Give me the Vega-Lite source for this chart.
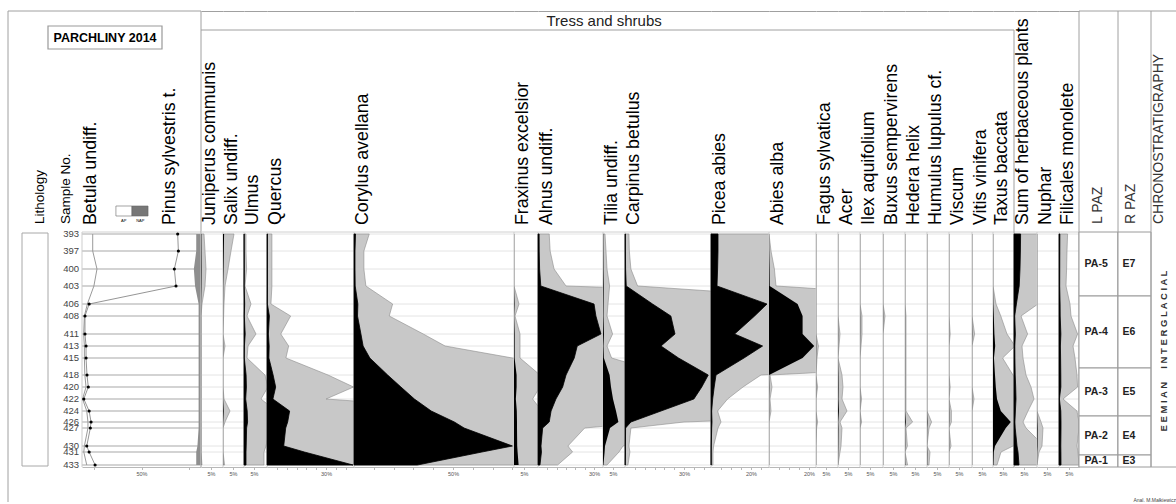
{
"$schema":"https://vega.github.io/schema/vega-lite/v6.json",
"padding":{"left":7,"top":10,"right":0,"bottom":0},
"background":"#ffffff",
"spacing":0,
"bounds":"flush",
"datasets":{
"p":[
{"s":393,"d":0,"B":9,"P":80.4,"AP":96,"Ju":0.15,"Sa":0.55,"Ul":0.1,"Qu":0.25,"Co":0.77,"Fr":0,"Al":0.6,"Ti":0.1,"Ca":0.2,"Pi":3.5,"Ab":0,"Fa":0,"Ac":0,"Il":0,"Bu":0,"He":0,"Hu":0,"Vi":0,"Vt":0,"Tx":0,"Sh":3.3,"Nu":0,"Fi":0.43},
{"s":397,"d":17,"B":9,"P":81,"AP":96,"Ju":0.2,"Sa":0.4,"Ul":0.1,"Qu":0.25,"Co":0.5,"Fr":0,"Al":0.65,"Ti":0.15,"Ca":0.22,"Pi":3.5,"Ab":0.1,"Fa":0,"Ac":0,"Il":0,"Bu":0,"He":0,"Hu":0,"Vi":0,"Vt":0,"Tx":0,"Sh":3.2,"Nu":0,"Fi":0.4},
{"s":400,"d":35,"B":12.6,"P":77.6,"AP":94,"Ju":0.25,"Sa":0.25,"Ul":0.13,"Qu":0.25,"Co":0.5,"Fr":0,"Al":0.86,"Ti":0.2,"Ca":0.3,"Pi":3.3,"Ab":0.27,"Fa":0,"Ac":0,"Il":0,"Bu":0,"He":0,"Hu":0,"Vi":0,"Vt":0,"Tx":0,"Sh":3.0,"Nu":0,"Fi":0.38},
{"s":403,"d":52,"B":10,"P":79,"AP":95,"Ju":0.2,"Sa":0.1,"Ul":0.05,"Qu":0.25,"Co":0.6,"Fr":0,"Al":1.5,"Ti":0.33,"Ca":0.64,"Pi":3,"Ab":0.35,"Fa":0,"Ac":0,"Il":0,"Bu":0,"He":0,"Hu":0,"Vi":0,"Vt":0,"Tx":0,"Sh":2.6,"Nu":0,"Fi":0.35},
{"s":406,"d":70,"B":4.5,"P":6,"AP":98,"Ju":0.05,"Sa":0.05,"Ul":0.35,"Qu":0.2,"Co":1.95,"Fr":0.25,"Al":30,"Ti":0.25,"Ca":14,"Pi":28,"Ab":14.3,"Fa":0,"Ac":0,"Il":0,"Bu":0,"He":0,"Hu":0,"Vi":0,"Vt":0,"Tx":0.15,"Sh":1.2,"Nu":0,"Fi":0.55},
{"s":408,"d":82,"B":2,"P":2.5,"AP":98,"Ju":0,"Sa":0.03,"Ul":0.15,"Qu":1.2,"Co":1.78,"Fr":0.05,"Al":31,"Ti":0.2,"Ca":23.3,"Pi":21.8,"Ab":16.8,"Fa":0,"Ac":0,"Il":0.1,"Bu":0.1,"He":0.05,"Hu":0,"Vi":0,"Vt":0,"Tx":0.39,"Sh":0.35,"Nu":0,"Fi":0.6},
{"s":411,"d":100,"B":1.4,"P":2.5,"AP":98,"Ju":0,"Sa":0,"Ul":0.6,"Qu":0.7,"Co":3.5,"Fr":0.3,"Al":33.7,"Ti":0.48,"Ca":25.4,"Pi":11.8,"Ab":16.8,"Fa":0,"Ac":0.1,"Il":0.1,"Bu":0,"He":0.05,"Hu":0,"Vi":0.06,"Vt":0.13,"Tx":0.7,"Sh":0.68,"Nu":0,"Fi":0.93},
{"s":413,"d":112,"B":2,"P":3.4,"AP":98,"Ju":0,"Sa":0.1,"Ul":0.2,"Qu":1.1,"Co":4.6,"Fr":0.3,"Al":21,"Ti":0.2,"Ca":18.3,"Pi":25.8,"Ab":22.6,"Fa":0.12,"Ac":0.05,"Il":0.05,"Bu":0,"He":0.05,"Hu":0,"Vi":0,"Vt":0,"Tx":1.1,"Sh":0.4,"Nu":0,"Fi":0.7},
{"s":415,"d":124,"B":2,"P":3.4,"AP":98,"Ju":0,"Sa":0,"Ul":0.15,"Qu":0.96,"Co":8,"Fr":0.3,"Al":19.4,"Ti":0.43,"Ca":27.2,"Pi":16.5,"Ab":16.8,"Fa":0.05,"Ac":0,"Il":0,"Bu":0,"He":0.05,"Hu":0,"Vi":0,"Vt":0,"Tx":0.48,"Sh":0.45,"Nu":0,"Fi":0.8},
{"s":418,"d":141,"B":2.4,"P":4.2,"AP":98,"Ju":0,"Sa":0,"Ul":1.05,"Qu":3.1,"Co":17,"Fr":1.3,"Al":15,"Ti":3.3,"Ca":42.3,"Pi":2.5,"Ab":0.05,"Fa":0,"Ac":0.2,"Il":0,"Bu":0,"He":0.05,"Hu":0,"Vi":0,"Vt":0,"Tx":1.0,"Sh":0.6,"Nu":0,"Fi":0.9},
{"s":420,"d":153,"B":3.4,"P":5.3,"AP":98,"Ju":0,"Sa":0,"Ul":1.2,"Qu":4.4,"Co":23.7,"Fr":1.3,"Al":13.2,"Ti":4,"Ca":39,"Pi":1.6,"Ab":0.15,"Fa":0.08,"Ac":0.25,"Il":0,"Bu":0,"He":0.05,"Hu":0,"Vi":0.06,"Vt":0,"Tx":1.4,"Sh":0.85,"Nu":0,"Fi":0.93},
{"s":422,"d":165,"B":0.5,"P":1.5,"AP":98,"Ju":0,"Sa":0.05,"Ul":0.85,"Qu":3.0,"Co":30.5,"Fr":0.93,"Al":9.6,"Ti":5,"Ca":35,"Pi":0.83,"Ab":0.05,"Fa":0,"Ac":0.2,"Il":0.08,"Bu":0,"He":0.05,"Hu":0,"Vi":0,"Vt":0.1,"Tx":2.0,"Sh":1.0,"Nu":0,"Fi":0.2},
{"s":424,"d":177,"B":4,"P":6,"AP":98,"Ju":0,"Sa":0.35,"Ul":1.6,"Qu":11.5,"Co":39,"Fr":1.4,"Al":7,"Ti":6.5,"Ca":18.3,"Pi":0.33,"Ab":0.1,"Fa":0,"Ac":0.45,"Il":0,"Bu":0,"He":0.05,"Hu":0,"Vi":0.12,"Vt":0,"Tx":3.9,"Sh":0.7,"Nu":0,"Fi":0.9},
{"s":426,"d":188,"B":5,"P":7.6,"AP":98,"Ju":0,"Sa":0.1,"Ul":1.8,"Qu":10.5,"Co":50.7,"Fr":1.5,"Al":6,"Ti":7.7,"Ca":3,"Pi":0.5,"Ab":0,"Fa":0.08,"Ac":0.1,"Il":0.08,"Bu":0,"He":0.38,"Hu":0.23,"Vi":0.12,"Vt":0,"Tx":8.9,"Sh":0.45,"Nu":0.2,"Fi":1.0},
{"s":427,"d":194,"B":5,"P":7,"AP":98,"Ju":0,"Sa":0,"Ul":1.3,"Qu":9.5,"Co":55.6,"Fr":1.5,"Al":2.5,"Ti":3.5,"Ca":0.3,"Pi":0.35,"Ab":0,"Fa":0.03,"Ac":0.2,"Il":0,"Bu":0,"He":0.05,"Hu":0.1,"Vi":0,"Vt":0,"Tx":6.4,"Sh":0.6,"Nu":0.3,"Fi":1.0},
{"s":430,"d":212,"B":2,"P":4,"AP":97,"Ju":0,"Sa":0,"Ul":1.1,"Qu":8.5,"Co":80,"Fr":1.6,"Al":1.6,"Ti":1,"Ca":0.2,"Pi":0.13,"Ab":0,"Fa":0,"Ac":0.15,"Il":0,"Bu":0,"He":0.12,"Hu":0,"Vi":0.1,"Vt":0,"Tx":1.0,"Sh":1.5,"Nu":0.25,"Fi":0.9},
{"s":431,"d":218,"B":1.5,"P":6,"AP":96,"Ju":0,"Sa":0,"Ul":1.0,"Qu":19,"Co":64.6,"Fr":1.8,"Al":1.85,"Ti":0.8,"Ca":0.25,"Pi":0.1,"Ab":0,"Fa":0,"Ac":0.1,"Il":0,"Bu":0,"He":0,"Hu":0.15,"Vi":0,"Vt":0,"Tx":0.4,"Sh":2,"Nu":0.1,"Fi":0.95},
{"s":433,"d":231,"B":4,"P":11,"AP":96,"Ju":0.05,"Sa":0.08,"Ul":1.0,"Qu":43.7,"Co":32,"Fr":2.3,"Al":1.05,"Ti":0.2,"Ca":0.15,"Pi":0.1,"Ab":0,"Fa":0,"Ac":0,"Il":0,"Bu":0,"He":0.13,"Hu":0.1,"Vi":0,"Vt":0,"Tx":0.2,"Sh":2.5,"Nu":0,"Fi":1.0}
],
"z":[
{"z":"PA-5","r":"E7","dep":-2},{"z":"PA-5","r":"E7","dep":62},
{"z":"PA-4","r":"E6","dep":62},{"z":"PA-4","r":"E6","dep":134},
{"z":"PA-3","r":"E5","dep":134},{"z":"PA-3","r":"E5","dep":182},
{"z":"PA-2","r":"E4","dep":182},{"z":"PA-2","r":"E4","dep":221},
{"z":"PA-1","r":"E3","dep":221},{"z":"PA-1","r":"E3","dep":233}
]
},
"data":{"name":"p"},
"hconcat":[
{"width":74,"height":456,
"layer":[
{"mark":{"type":"text","align":"right","baseline":"middle","fontSize":9.5,"color":"#444444"},"encoding":{"y":{"field":"d","type":"quantitative","scale":{"domain":[-223,233],"reverse":true,"nice":false,"zero":false}},"x":{"datum":71,"scale":{"domain":[0,74],"nice":false},"axis":null},"text":{"field":"s","type":"nominal"}}},
{"data":{"values":[{}]},"mark":{"type":"rule","color":"#a0a0a0"},"encoding":{"x":{"datum":0,"axis":null},"y":{"datum":-223},"y2":{"datum":268}}},
{"data":{"values":[{}]},"mark":{"type":"rule","color":"#a0a0a0"},"encoding":{"y":{"datum":-223}}},
{"data":{"values":[{}]},"mark":{"type":"rect","fill":"#ffffff","stroke":"#a8a8a8"},"encoding":{"x":{"datum":14,"axis":null},"x2":{"datum":40},"y":{"datum":-1},"y2":{"datum":232}}},
{"data":{"values":[{}]},"mark":{"type":"text","style":"lab","fontSize":13.5},"encoding":{"x":{"datum":24.5,"axis":null},"y":{"datum":-10},"text":{"value":"Lithology"}}},
{"data":{"values":[{}]},"mark":{"type":"text","style":"lab","fontSize":13.5},"encoding":{"x":{"datum":50.5,"axis":null},"y":{"datum":-10},"text":{"value":"Sample No."}}},
{"data":{"values":[{}]},"mark":{"type":"rect","fill":"#ffffff","stroke":"#999999","strokeWidth":1.2},"encoding":{"x":{"datum":40,"axis":null},"x2":{"datum":154},"y":{"datum":-208},"y2":{"datum":-185}}},
{"data":{"values":[{}]},"mark":{"type":"text","fontSize":12.5,"fontWeight":"bold","align":"center","baseline":"middle"},"encoding":{"x":{"datum":97,"axis":null},"y":{"datum":-196.5},"text":{"value":"PARCHLINY 2014"}}}
]},
{"width":119,"height":456,
"layer":[
{"mark":{"type":"rule","color":"#a8a8a8","strokeWidth":1.2},"encoding":{"y":{"field":"d","type":"quantitative","scale":{"domain":[-223,233],"reverse":true,"nice":false,"zero":false}}}},
{"data":{"values":[{}]},"mark":{"type":"rule","color":"#a0a0a0"},"encoding":{"y":{"datum":-223}}},
{"data":{"values":[{}]},"mark":{"type":"rule","color":"#d0d0d0"},"encoding":{"y":{"datum":-2}}},
{"data":{"values":[{}]},"mark":{"type":"rule","color":"#cdcdcd"},"encoding":{"x":{"datum":0},"y":{"datum":-2},"y2":{"datum":233}}},
{"data":{"values":[{}]},"mark":{"type":"rule","color":"#a0a0a0"},"encoding":{"x":{"datum":100},"y":{"datum":-223},"y2":{"datum":233}}},
{"mark":{"type":"area","orient":"horizontal","fill":"#8e8e8e"},"encoding":{"y":{"field":"d","type":"quantitative"},"x":{"field":"AP","type":"quantitative","title":null,"scale":{"domain":[0,100],"nice":false},"axis":{"values":[10,20,30,40,50,60,70,80,90],"labelExpr":"datum.value==50?'50%':''","title":null}},"x2":{"datum":100}}},
{"mark":{"type":"line","color":"#9a9a9a","strokeWidth":1},"encoding":{"y":{"field":"d","type":"quantitative"},"x":{"field":"B","type":"quantitative","title":null},"order":{"field":"d","type":"quantitative"}}},
{"mark":{"type":"line","color":"#7a7a7a","strokeWidth":0.8},"encoding":{"y":{"field":"d","type":"quantitative"},"x":{"field":"P","type":"quantitative","title":null},"order":{"field":"d","type":"quantitative"}}},
{"mark":{"type":"point","filled":true,"size":10,"color":"#000000","opacity":1},"encoding":{"y":{"field":"d","type":"quantitative"},"x":{"field":"P","type":"quantitative","title":null}}},
{"data":{"values":[{}]},"mark":{"type":"text","style":"lab"},"encoding":{"x":{"datum":0},"y":{"datum":-9},"text":{"value":"Betula undiff."}}},
{"data":{"values":[{}]},"mark":{"type":"text","style":"lab"},"encoding":{"x":{"datum":66.4},"y":{"datum":-9},"text":{"value":"Pinus sylvestris t."}}},
{"data":{"values":[{}]},"mark":{"type":"rect","fill":"#ffffff","stroke":"#666666","strokeWidth":0.6},"encoding":{"x":{"datum":28.5},"x2":{"datum":42},"y":{"datum":-28},"y2":{"datum":-18}}},
{"data":{"values":[{}]},"mark":{"type":"rect","fill":"#777777","stroke":"#666666","strokeWidth":0.6},"encoding":{"x":{"datum":42},"x2":{"datum":55.5},"y":{"datum":-28},"y2":{"datum":-18}}},
{"data":{"values":[{}]},"mark":{"type":"text","fontSize":4,"baseline":"middle","align":"center"},"encoding":{"x":{"datum":35},"y":{"datum":-13},"text":{"value":"AP"}}},
{"data":{"values":[{}]},"mark":{"type":"text","fontSize":4,"baseline":"middle","align":"center"},"encoding":{"x":{"datum":49},"y":{"datum":-13},"text":{"value":"NAP"}}}
]},
{"width":22,"height":456,"resolve":{"scale":{"x":"independent"}},
"layer":[
{"mark":{"type":"rule","color":"#e4e4e4"},"encoding":{"y":{"field":"d","type":"quantitative","scale":{"domain":[-223,233],"reverse":true,"nice":false,"zero":false}}}},
{"data":{"values":[{}]},"mark":{"type":"rule","color":"#d0d0d0"},"encoding":{"y":{"datum":-2}}},
{"data":{"values":[{}]},"mark":{"type":"rule","color":"#a0a0a0"},"encoding":{"y":{"datum":-204}}},
{"data":{"values":[{}]},"mark":{"type":"rule","color":"#cdcdcd"},"encoding":{"x":{"datum":0,"scale":{"domain":[0,1]},"axis":null},"y":{"datum":-2},"y2":{"datum":233}}},
{"mark":{"type":"area","orient":"horizontal","clip":true,"fill":"#c8c8c8","stroke":"#8c8c8c","strokeWidth":0.6},"encoding":{"y":{"field":"d","type":"quantitative"},"x":{"field":"Ju","type":"quantitative","scale":{"domain":[0,1.1],"nice":false},"axis":{"orient":"top","title":null}}}},
{"mark":{"type":"area","orient":"horizontal","fill":"#000000"},"encoding":{"y":{"field":"d","type":"quantitative"},"x":{"field":"Ju","type":"quantitative","scale":{"domain":[0,11],"nice":false},"axis":{"values":[5],"labelExpr":"datum.value+'%'","title":null}}}},
{"data":{"values":[{}]},"mark":{"type":"text","style":"lab"},"encoding":{"x":{"datum":0,"scale":{"domain":[0,1]},"axis":null},"y":{"datum":-9},"text":{"value":"Juniperus communis"}}}
]},
{"width":21,"height":456,"resolve":{"scale":{"x":"independent"}},
"layer":[
{"mark":{"type":"rule","color":"#e4e4e4"},"encoding":{"y":{"field":"d","type":"quantitative","scale":{"domain":[-223,233],"reverse":true,"nice":false,"zero":false}}}},
{"data":{"values":[{}]},"mark":{"type":"rule","color":"#d0d0d0"},"encoding":{"y":{"datum":-2}}},
{"data":{"values":[{}]},"mark":{"type":"rule","color":"#a0a0a0"},"encoding":{"y":{"datum":-204}}},
{"data":{"values":[{}]},"mark":{"type":"rule","color":"#cdcdcd"},"encoding":{"x":{"datum":0,"scale":{"domain":[0,1]},"axis":null},"y":{"datum":-2},"y2":{"datum":233}}},
{"mark":{"type":"area","orient":"horizontal","clip":true,"fill":"#c8c8c8","stroke":"#8c8c8c","strokeWidth":0.6},"encoding":{"y":{"field":"d","type":"quantitative"},"x":{"field":"Sa","type":"quantitative","scale":{"domain":[0,1.05],"nice":false},"axis":{"orient":"top","title":null}}}},
{"mark":{"type":"area","orient":"horizontal","fill":"#000000"},"encoding":{"y":{"field":"d","type":"quantitative"},"x":{"field":"Sa","type":"quantitative","scale":{"domain":[0,10.5],"nice":false},"axis":{"values":[5],"labelExpr":"datum.value+'%'","title":null}}}},
{"data":{"values":[{}]},"mark":{"type":"text","style":"lab"},"encoding":{"x":{"datum":0,"scale":{"domain":[0,1]},"axis":null},"y":{"datum":-9},"text":{"value":"Salix undiff."}}}
]},
{"width":23,"height":456,"resolve":{"scale":{"x":"independent"}},
"layer":[
{"mark":{"type":"rule","color":"#e4e4e4"},"encoding":{"y":{"field":"d","type":"quantitative","scale":{"domain":[-223,233],"reverse":true,"nice":false,"zero":false}}}},
{"data":{"values":[{}]},"mark":{"type":"rule","color":"#d0d0d0"},"encoding":{"y":{"datum":-2}}},
{"data":{"values":[{}]},"mark":{"type":"rule","color":"#a0a0a0"},"encoding":{"y":{"datum":-204}}},
{"data":{"values":[{}]},"mark":{"type":"rule","color":"#cdcdcd"},"encoding":{"x":{"datum":0,"scale":{"domain":[0,1]},"axis":null},"y":{"datum":-2},"y2":{"datum":233}}},
{"mark":{"type":"area","orient":"horizontal","clip":true,"fill":"#c8c8c8","stroke":"#8c8c8c","strokeWidth":0.6},"encoding":{"y":{"field":"d","type":"quantitative"},"x":{"field":"Ul","type":"quantitative","scale":{"domain":[0,1.15],"nice":false},"axis":{"orient":"top","title":null}}}},
{"mark":{"type":"area","orient":"horizontal","fill":"#000000","stroke":"#000000","strokeWidth":0.8},"encoding":{"y":{"field":"d","type":"quantitative"},"x":{"field":"Ul","type":"quantitative","scale":{"domain":[0,11.5],"nice":false},"axis":{"values":[5],"labelExpr":"datum.value+'%'","title":null}}}},
{"data":{"values":[{}]},"mark":{"type":"text","style":"lab"},"encoding":{"x":{"datum":0,"scale":{"domain":[0,1]},"axis":null},"y":{"datum":-9},"text":{"value":"Ulmus"}}}
]},
{"width":87,"height":456,"resolve":{"scale":{"x":"independent"}},
"layer":[
{"mark":{"type":"rule","color":"#e4e4e4"},"encoding":{"y":{"field":"d","type":"quantitative","scale":{"domain":[-223,233],"reverse":true,"nice":false,"zero":false}}}},
{"data":{"values":[{}]},"mark":{"type":"rule","color":"#d0d0d0"},"encoding":{"y":{"datum":-2}}},
{"data":{"values":[{}]},"mark":{"type":"rule","color":"#a0a0a0"},"encoding":{"y":{"datum":-204}}},
{"data":{"values":[{}]},"mark":{"type":"rule","color":"#cdcdcd"},"encoding":{"x":{"datum":0,"scale":{"domain":[0,1]},"axis":null},"y":{"datum":-2},"y2":{"datum":233}}},
{"mark":{"type":"area","orient":"horizontal","clip":true,"fill":"#c8c8c8","stroke":"#8c8c8c","strokeWidth":0.6},"encoding":{"y":{"field":"d","type":"quantitative"},"x":{"field":"Qu","type":"quantitative","scale":{"domain":[0,4.42],"nice":false},"axis":{"orient":"top","title":null}}}},
{"mark":{"type":"area","orient":"horizontal","fill":"#000000","stroke":"#000000","strokeWidth":0.8},"encoding":{"y":{"field":"d","type":"quantitative"},"x":{"field":"Qu","type":"quantitative","scale":{"domain":[0,44.2],"nice":false},"axis":{"values":[5,10,15,20,25,30,35,40],"labelExpr":"datum.value==30?'30%':''","title":null}}}},
{"data":{"values":[{}]},"mark":{"type":"text","style":"lab"},"encoding":{"x":{"datum":0,"scale":{"domain":[0,1]},"axis":null},"y":{"datum":-9},"text":{"value":"Quercus"}}}
]},
{"width":160,"height":456,"resolve":{"scale":{"x":"independent"}},
"layer":[
{"mark":{"type":"rule","color":"#e4e4e4"},"encoding":{"y":{"field":"d","type":"quantitative","scale":{"domain":[-223,233],"reverse":true,"nice":false,"zero":false}}}},
{"data":{"values":[{}]},"mark":{"type":"rule","color":"#d0d0d0"},"encoding":{"y":{"datum":-2}}},
{"data":{"values":[{}]},"mark":{"type":"rule","color":"#a0a0a0"},"encoding":{"y":{"datum":-204}}},
{"data":{"values":[{}]},"mark":{"type":"rule","color":"#cdcdcd"},"encoding":{"x":{"datum":0,"scale":{"domain":[0,1]},"axis":null},"y":{"datum":-2},"y2":{"datum":233}}},
{"mark":{"type":"area","orient":"horizontal","clip":true,"fill":"#c8c8c8","stroke":"#8c8c8c","strokeWidth":0.6},"encoding":{"y":{"field":"d","type":"quantitative"},"x":{"field":"Co","type":"quantitative","scale":{"domain":[0,8.08],"nice":false},"axis":{"orient":"top","title":null}}}},
{"mark":{"type":"area","orient":"horizontal","fill":"#000000","stroke":"#000000","strokeWidth":0.8},"encoding":{"y":{"field":"d","type":"quantitative"},"x":{"field":"Co","type":"quantitative","scale":{"domain":[0,80.8],"nice":false},"axis":{"values":[10,20,30,40,50,60,70,80],"labelExpr":"datum.value==50?'50%':''","title":null}}}},
{"data":{"values":[{}]},"mark":{"type":"text","style":"lab"},"encoding":{"x":{"datum":0,"scale":{"domain":[0,1]},"axis":null},"y":{"datum":-9},"text":{"value":"Corylus avellana"}}}
]},
{"width":24,"height":456,"resolve":{"scale":{"x":"independent"}},
"layer":[
{"mark":{"type":"rule","color":"#e4e4e4"},"encoding":{"y":{"field":"d","type":"quantitative","scale":{"domain":[-223,233],"reverse":true,"nice":false,"zero":false}}}},
{"data":{"values":[{}]},"mark":{"type":"rule","color":"#d0d0d0"},"encoding":{"y":{"datum":-2}}},
{"data":{"values":[{}]},"mark":{"type":"rule","color":"#a0a0a0"},"encoding":{"y":{"datum":-204}}},
{"data":{"values":[{}]},"mark":{"type":"rule","color":"#cdcdcd"},"encoding":{"x":{"datum":0,"scale":{"domain":[0,1]},"axis":null},"y":{"datum":-2},"y2":{"datum":233}}},
{"mark":{"type":"area","orient":"horizontal","clip":true,"fill":"#c8c8c8","stroke":"#8c8c8c","strokeWidth":0.6},"encoding":{"y":{"field":"d","type":"quantitative"},"x":{"field":"Fr","type":"quantitative","scale":{"domain":[0,1.2],"nice":false},"axis":{"orient":"top","title":null}}}},
{"mark":{"type":"area","orient":"horizontal","fill":"#000000"},"encoding":{"y":{"field":"d","type":"quantitative"},"x":{"field":"Fr","type":"quantitative","scale":{"domain":[0,12],"nice":false},"axis":{"values":[5],"labelExpr":"datum.value+'%'","title":null}}}},
{"data":{"values":[{}]},"mark":{"type":"text","style":"lab"},"encoding":{"x":{"datum":0,"scale":{"domain":[0,1]},"axis":null},"y":{"datum":-9},"text":{"value":"Fraxinus excelsior"}}}
]},
{"width":65,"height":456,"resolve":{"scale":{"x":"independent"}},
"layer":[
{"mark":{"type":"rule","color":"#e4e4e4"},"encoding":{"y":{"field":"d","type":"quantitative","scale":{"domain":[-223,233],"reverse":true,"nice":false,"zero":false}}}},
{"data":{"values":[{}]},"mark":{"type":"rule","color":"#d0d0d0"},"encoding":{"y":{"datum":-2}}},
{"data":{"values":[{}]},"mark":{"type":"rule","color":"#a0a0a0"},"encoding":{"y":{"datum":-204}}},
{"data":{"values":[{}]},"mark":{"type":"rule","color":"#cdcdcd"},"encoding":{"x":{"datum":0,"scale":{"domain":[0,1]},"axis":null},"y":{"datum":-2},"y2":{"datum":233}}},
{"mark":{"type":"area","orient":"horizontal","clip":true,"fill":"#c8c8c8","stroke":"#8c8c8c","strokeWidth":0.6},"encoding":{"y":{"field":"d","type":"quantitative"},"x":{"field":"Al","type":"quantitative","scale":{"domain":[0,3.48],"nice":false},"axis":{"orient":"top","title":null}}}},
{"mark":{"type":"area","orient":"horizontal","fill":"#000000","stroke":"#000000","strokeWidth":0.8},"encoding":{"y":{"field":"d","type":"quantitative"},"x":{"field":"Al","type":"quantitative","scale":{"domain":[0,34.8],"nice":false},"axis":{"values":[5,10,15,20,25,30],"labelExpr":"datum.value==30?'30%':''","title":null}}}},
{"data":{"values":[{}]},"mark":{"type":"text","style":"lab"},"encoding":{"x":{"datum":0,"scale":{"domain":[0,1]},"axis":null},"y":{"datum":-9},"text":{"value":"Alnus undiff."}}}
]},
{"width":22,"height":456,"resolve":{"scale":{"x":"independent"}},
"layer":[
{"mark":{"type":"rule","color":"#e4e4e4"},"encoding":{"y":{"field":"d","type":"quantitative","scale":{"domain":[-223,233],"reverse":true,"nice":false,"zero":false}}}},
{"data":{"values":[{}]},"mark":{"type":"rule","color":"#d0d0d0"},"encoding":{"y":{"datum":-2}}},
{"data":{"values":[{}]},"mark":{"type":"rule","color":"#a0a0a0"},"encoding":{"y":{"datum":-204}}},
{"data":{"values":[{}]},"mark":{"type":"rule","color":"#cdcdcd"},"encoding":{"x":{"datum":0,"scale":{"domain":[0,1]},"axis":null},"y":{"datum":-2},"y2":{"datum":233}}},
{"mark":{"type":"area","orient":"horizontal","clip":true,"fill":"#c8c8c8","stroke":"#8c8c8c","strokeWidth":0.6},"encoding":{"y":{"field":"d","type":"quantitative"},"x":{"field":"Ti","type":"quantitative","scale":{"domain":[0,1.1],"nice":false},"axis":{"orient":"top","title":null}}}},
{"mark":{"type":"area","orient":"horizontal","fill":"#000000"},"encoding":{"y":{"field":"d","type":"quantitative"},"x":{"field":"Ti","type":"quantitative","scale":{"domain":[0,11],"nice":false},"axis":{"values":[5],"labelExpr":"datum.value+'%'","title":null}}}},
{"data":{"values":[{}]},"mark":{"type":"text","style":"lab"},"encoding":{"x":{"datum":0,"scale":{"domain":[0,1]},"axis":null},"y":{"datum":-9},"text":{"value":"Tilia undiff."}}},
{"data":{"values":[{}]},"mark":{"type":"text","fontSize":15,"align":"center","baseline":"middle","color":"#222222"},"encoding":{"x":{"datum":0.05,"scale":{"domain":[0,1]},"axis":null},"y":{"datum":-213},"text":{"value":"Tress and shrubs"}}}
]},
{"width":86,"height":456,"resolve":{"scale":{"x":"independent"}},
"layer":[
{"mark":{"type":"rule","color":"#e4e4e4"},"encoding":{"y":{"field":"d","type":"quantitative","scale":{"domain":[-223,233],"reverse":true,"nice":false,"zero":false}}}},
{"data":{"values":[{}]},"mark":{"type":"rule","color":"#d0d0d0"},"encoding":{"y":{"datum":-2}}},
{"data":{"values":[{}]},"mark":{"type":"rule","color":"#a0a0a0"},"encoding":{"y":{"datum":-204}}},
{"data":{"values":[{}]},"mark":{"type":"rule","color":"#cdcdcd"},"encoding":{"x":{"datum":0,"scale":{"domain":[0,1]},"axis":null},"y":{"datum":-2},"y2":{"datum":233}}},
{"mark":{"type":"area","orient":"horizontal","clip":true,"fill":"#c8c8c8","stroke":"#8c8c8c","strokeWidth":0.6},"encoding":{"y":{"field":"d","type":"quantitative"},"x":{"field":"Ca","type":"quantitative","scale":{"domain":[0,4.37],"nice":false},"axis":{"orient":"top","title":null}}}},
{"mark":{"type":"area","orient":"horizontal","fill":"#000000","stroke":"#000000","strokeWidth":0.8},"encoding":{"y":{"field":"d","type":"quantitative"},"x":{"field":"Ca","type":"quantitative","scale":{"domain":[0,43.7],"nice":false},"axis":{"values":[5,10,15,20,25,30,35,40],"labelExpr":"datum.value==30?'30%':''","title":null}}}},
{"data":{"values":[{}]},"mark":{"type":"text","style":"lab"},"encoding":{"x":{"datum":0,"scale":{"domain":[0,1]},"axis":null},"y":{"datum":-9},"text":{"value":"Carpinus betulus"}}}
]},
{"width":58,"height":456,"resolve":{"scale":{"x":"independent"}},
"layer":[
{"mark":{"type":"rule","color":"#e4e4e4"},"encoding":{"y":{"field":"d","type":"quantitative","scale":{"domain":[-223,233],"reverse":true,"nice":false,"zero":false}}}},
{"data":{"values":[{}]},"mark":{"type":"rule","color":"#d0d0d0"},"encoding":{"y":{"datum":-2}}},
{"data":{"values":[{}]},"mark":{"type":"rule","color":"#a0a0a0"},"encoding":{"y":{"datum":-204}}},
{"data":{"values":[{}]},"mark":{"type":"rule","color":"#cdcdcd"},"encoding":{"x":{"datum":0,"scale":{"domain":[0,1]},"axis":null},"y":{"datum":-2},"y2":{"datum":233}}},
{"mark":{"type":"area","orient":"horizontal","clip":true,"fill":"#c8c8c8","stroke":"#8c8c8c","strokeWidth":0.6},"encoding":{"y":{"field":"d","type":"quantitative"},"x":{"field":"Pi","type":"quantitative","scale":{"domain":[0,2.9],"nice":false},"axis":{"orient":"top","title":null}}}},
{"mark":{"type":"area","orient":"horizontal","fill":"#000000","stroke":"#000000","strokeWidth":0.8},"encoding":{"y":{"field":"d","type":"quantitative"},"x":{"field":"Pi","type":"quantitative","scale":{"domain":[0,29],"nice":false},"axis":{"values":[5,10,15,20,25],"labelExpr":"datum.value==20?'20%':''","title":null}}}},
{"data":{"values":[{}]},"mark":{"type":"text","style":"lab"},"encoding":{"x":{"datum":0,"scale":{"domain":[0,1]},"axis":null},"y":{"datum":-9},"text":{"value":"Picea abies"}}}
]},
{"width":47,"height":456,"resolve":{"scale":{"x":"independent"}},
"layer":[
{"mark":{"type":"rule","color":"#e4e4e4"},"encoding":{"y":{"field":"d","type":"quantitative","scale":{"domain":[-223,233],"reverse":true,"nice":false,"zero":false}}}},
{"data":{"values":[{}]},"mark":{"type":"rule","color":"#d0d0d0"},"encoding":{"y":{"datum":-2}}},
{"data":{"values":[{}]},"mark":{"type":"rule","color":"#a0a0a0"},"encoding":{"y":{"datum":-204}}},
{"data":{"values":[{}]},"mark":{"type":"rule","color":"#cdcdcd"},"encoding":{"x":{"datum":0,"scale":{"domain":[0,1]},"axis":null},"y":{"datum":-2},"y2":{"datum":233}}},
{"mark":{"type":"area","orient":"horizontal","clip":true,"fill":"#c8c8c8","stroke":"#8c8c8c","strokeWidth":0.6},"encoding":{"y":{"field":"d","type":"quantitative"},"x":{"field":"Ab","type":"quantitative","scale":{"domain":[0,2.35],"nice":false},"axis":{"orient":"top","title":null}}}},
{"mark":{"type":"area","orient":"horizontal","fill":"#000000"},"encoding":{"y":{"field":"d","type":"quantitative"},"x":{"field":"Ab","type":"quantitative","scale":{"domain":[0,23.5],"nice":false},"axis":{"values":[5,10,15,20],"labelExpr":"datum.value==20?'20%':''","title":null}}}},
{"data":{"values":[{}]},"mark":{"type":"text","style":"lab"},"encoding":{"x":{"datum":0,"scale":{"domain":[0,1]},"axis":null},"y":{"datum":-9},"text":{"value":"Abies alba"}}}
]},
{"width":22,"height":456,"resolve":{"scale":{"x":"independent"}},
"layer":[
{"mark":{"type":"rule","color":"#e4e4e4"},"encoding":{"y":{"field":"d","type":"quantitative","scale":{"domain":[-223,233],"reverse":true,"nice":false,"zero":false}}}},
{"data":{"values":[{}]},"mark":{"type":"rule","color":"#d0d0d0"},"encoding":{"y":{"datum":-2}}},
{"data":{"values":[{}]},"mark":{"type":"rule","color":"#a0a0a0"},"encoding":{"y":{"datum":-204}}},
{"data":{"values":[{}]},"mark":{"type":"rule","color":"#cdcdcd"},"encoding":{"x":{"datum":0,"scale":{"domain":[0,1]},"axis":null},"y":{"datum":-2},"y2":{"datum":233}}},
{"mark":{"type":"area","orient":"horizontal","clip":true,"fill":"#c8c8c8","stroke":"#8c8c8c","strokeWidth":0.6},"encoding":{"y":{"field":"d","type":"quantitative"},"x":{"field":"Fa","type":"quantitative","scale":{"domain":[0,1.1],"nice":false},"axis":{"orient":"top","title":null}}}},
{"mark":{"type":"area","orient":"horizontal","fill":"#000000"},"encoding":{"y":{"field":"d","type":"quantitative"},"x":{"field":"Fa","type":"quantitative","scale":{"domain":[0,11],"nice":false},"axis":{"values":[5],"labelExpr":"datum.value+'%'","title":null}}}},
{"data":{"values":[{}]},"mark":{"type":"text","style":"lab"},"encoding":{"x":{"datum":0,"scale":{"domain":[0,1]},"axis":null},"y":{"datum":-9},"text":{"value":"Fagus sylvatica"}}}
]},
{"width":22,"height":456,"resolve":{"scale":{"x":"independent"}},
"layer":[
{"mark":{"type":"rule","color":"#e4e4e4"},"encoding":{"y":{"field":"d","type":"quantitative","scale":{"domain":[-223,233],"reverse":true,"nice":false,"zero":false}}}},
{"data":{"values":[{}]},"mark":{"type":"rule","color":"#d0d0d0"},"encoding":{"y":{"datum":-2}}},
{"data":{"values":[{}]},"mark":{"type":"rule","color":"#a0a0a0"},"encoding":{"y":{"datum":-204}}},
{"data":{"values":[{}]},"mark":{"type":"rule","color":"#cdcdcd"},"encoding":{"x":{"datum":0,"scale":{"domain":[0,1]},"axis":null},"y":{"datum":-2},"y2":{"datum":233}}},
{"mark":{"type":"area","orient":"horizontal","clip":true,"fill":"#c8c8c8","stroke":"#8c8c8c","strokeWidth":0.6},"encoding":{"y":{"field":"d","type":"quantitative"},"x":{"field":"Ac","type":"quantitative","scale":{"domain":[0,1.1],"nice":false},"axis":{"orient":"top","title":null}}}},
{"mark":{"type":"area","orient":"horizontal","fill":"#000000"},"encoding":{"y":{"field":"d","type":"quantitative"},"x":{"field":"Ac","type":"quantitative","scale":{"domain":[0,11],"nice":false},"axis":{"values":[5],"labelExpr":"datum.value+'%'","title":null}}}},
{"data":{"values":[{}]},"mark":{"type":"text","style":"lab"},"encoding":{"x":{"datum":0,"scale":{"domain":[0,1]},"axis":null},"y":{"datum":-9},"text":{"value":"Acer"}}}
]},
{"width":23,"height":456,"resolve":{"scale":{"x":"independent"}},
"layer":[
{"mark":{"type":"rule","color":"#e4e4e4"},"encoding":{"y":{"field":"d","type":"quantitative","scale":{"domain":[-223,233],"reverse":true,"nice":false,"zero":false}}}},
{"data":{"values":[{}]},"mark":{"type":"rule","color":"#d0d0d0"},"encoding":{"y":{"datum":-2}}},
{"data":{"values":[{}]},"mark":{"type":"rule","color":"#a0a0a0"},"encoding":{"y":{"datum":-204}}},
{"data":{"values":[{}]},"mark":{"type":"rule","color":"#cdcdcd"},"encoding":{"x":{"datum":0,"scale":{"domain":[0,1]},"axis":null},"y":{"datum":-2},"y2":{"datum":233}}},
{"mark":{"type":"area","orient":"horizontal","clip":true,"fill":"#c8c8c8","stroke":"#8c8c8c","strokeWidth":0.6},"encoding":{"y":{"field":"d","type":"quantitative"},"x":{"field":"Il","type":"quantitative","scale":{"domain":[0,1.15],"nice":false},"axis":{"orient":"top","title":null}}}},
{"mark":{"type":"area","orient":"horizontal","fill":"#000000"},"encoding":{"y":{"field":"d","type":"quantitative"},"x":{"field":"Il","type":"quantitative","scale":{"domain":[0,11.5],"nice":false},"axis":{"values":[5],"labelExpr":"datum.value+'%'","title":null}}}},
{"data":{"values":[{}]},"mark":{"type":"text","style":"lab"},"encoding":{"x":{"datum":0,"scale":{"domain":[0,1]},"axis":null},"y":{"datum":-9},"text":{"value":"Ilex aquifolium"}}}
]},
{"width":22,"height":456,"resolve":{"scale":{"x":"independent"}},
"layer":[
{"mark":{"type":"rule","color":"#e4e4e4"},"encoding":{"y":{"field":"d","type":"quantitative","scale":{"domain":[-223,233],"reverse":true,"nice":false,"zero":false}}}},
{"data":{"values":[{}]},"mark":{"type":"rule","color":"#d0d0d0"},"encoding":{"y":{"datum":-2}}},
{"data":{"values":[{}]},"mark":{"type":"rule","color":"#a0a0a0"},"encoding":{"y":{"datum":-204}}},
{"data":{"values":[{}]},"mark":{"type":"rule","color":"#cdcdcd"},"encoding":{"x":{"datum":0,"scale":{"domain":[0,1]},"axis":null},"y":{"datum":-2},"y2":{"datum":233}}},
{"mark":{"type":"area","orient":"horizontal","clip":true,"fill":"#c8c8c8","stroke":"#8c8c8c","strokeWidth":0.6},"encoding":{"y":{"field":"d","type":"quantitative"},"x":{"field":"Bu","type":"quantitative","scale":{"domain":[0,1.1],"nice":false},"axis":{"orient":"top","title":null}}}},
{"mark":{"type":"area","orient":"horizontal","fill":"#000000"},"encoding":{"y":{"field":"d","type":"quantitative"},"x":{"field":"Bu","type":"quantitative","scale":{"domain":[0,11],"nice":false},"axis":{"values":[5],"labelExpr":"datum.value+'%'","title":null}}}},
{"data":{"values":[{}]},"mark":{"type":"text","style":"lab"},"encoding":{"x":{"datum":0,"scale":{"domain":[0,1]},"axis":null},"y":{"datum":-9},"text":{"value":"Buxus sempervirens"}}}
]},
{"width":22,"height":456,"resolve":{"scale":{"x":"independent"}},
"layer":[
{"mark":{"type":"rule","color":"#e4e4e4"},"encoding":{"y":{"field":"d","type":"quantitative","scale":{"domain":[-223,233],"reverse":true,"nice":false,"zero":false}}}},
{"data":{"values":[{}]},"mark":{"type":"rule","color":"#d0d0d0"},"encoding":{"y":{"datum":-2}}},
{"data":{"values":[{}]},"mark":{"type":"rule","color":"#a0a0a0"},"encoding":{"y":{"datum":-204}}},
{"data":{"values":[{}]},"mark":{"type":"rule","color":"#cdcdcd"},"encoding":{"x":{"datum":0,"scale":{"domain":[0,1]},"axis":null},"y":{"datum":-2},"y2":{"datum":233}}},
{"mark":{"type":"area","orient":"horizontal","clip":true,"fill":"#c8c8c8","stroke":"#8c8c8c","strokeWidth":0.6},"encoding":{"y":{"field":"d","type":"quantitative"},"x":{"field":"He","type":"quantitative","scale":{"domain":[0,1.1],"nice":false},"axis":{"orient":"top","title":null}}}},
{"mark":{"type":"area","orient":"horizontal","fill":"#000000"},"encoding":{"y":{"field":"d","type":"quantitative"},"x":{"field":"He","type":"quantitative","scale":{"domain":[0,11],"nice":false},"axis":{"values":[5],"labelExpr":"datum.value+'%'","title":null}}}},
{"data":{"values":[{}]},"mark":{"type":"text","style":"lab"},"encoding":{"x":{"datum":0,"scale":{"domain":[0,1]},"axis":null},"y":{"datum":-9},"text":{"value":"Hedera helix"}}}
]},
{"width":22,"height":456,"resolve":{"scale":{"x":"independent"}},
"layer":[
{"mark":{"type":"rule","color":"#e4e4e4"},"encoding":{"y":{"field":"d","type":"quantitative","scale":{"domain":[-223,233],"reverse":true,"nice":false,"zero":false}}}},
{"data":{"values":[{}]},"mark":{"type":"rule","color":"#d0d0d0"},"encoding":{"y":{"datum":-2}}},
{"data":{"values":[{}]},"mark":{"type":"rule","color":"#a0a0a0"},"encoding":{"y":{"datum":-204}}},
{"data":{"values":[{}]},"mark":{"type":"rule","color":"#cdcdcd"},"encoding":{"x":{"datum":0,"scale":{"domain":[0,1]},"axis":null},"y":{"datum":-2},"y2":{"datum":233}}},
{"mark":{"type":"area","orient":"horizontal","clip":true,"fill":"#c8c8c8","stroke":"#8c8c8c","strokeWidth":0.6},"encoding":{"y":{"field":"d","type":"quantitative"},"x":{"field":"Hu","type":"quantitative","scale":{"domain":[0,1.1],"nice":false},"axis":{"orient":"top","title":null}}}},
{"mark":{"type":"area","orient":"horizontal","fill":"#000000"},"encoding":{"y":{"field":"d","type":"quantitative"},"x":{"field":"Hu","type":"quantitative","scale":{"domain":[0,11],"nice":false},"axis":{"values":[5],"labelExpr":"datum.value+'%'","title":null}}}},
{"data":{"values":[{}]},"mark":{"type":"text","style":"lab"},"encoding":{"x":{"datum":0,"scale":{"domain":[0,1]},"axis":null},"y":{"datum":-9},"text":{"value":"Humulus lupulus cf."}}}
]},
{"width":23,"height":456,"resolve":{"scale":{"x":"independent"}},
"layer":[
{"mark":{"type":"rule","color":"#e4e4e4"},"encoding":{"y":{"field":"d","type":"quantitative","scale":{"domain":[-223,233],"reverse":true,"nice":false,"zero":false}}}},
{"data":{"values":[{}]},"mark":{"type":"rule","color":"#d0d0d0"},"encoding":{"y":{"datum":-2}}},
{"data":{"values":[{}]},"mark":{"type":"rule","color":"#a0a0a0"},"encoding":{"y":{"datum":-204}}},
{"data":{"values":[{}]},"mark":{"type":"rule","color":"#cdcdcd"},"encoding":{"x":{"datum":0,"scale":{"domain":[0,1]},"axis":null},"y":{"datum":-2},"y2":{"datum":233}}},
{"mark":{"type":"area","orient":"horizontal","clip":true,"fill":"#c8c8c8","stroke":"#8c8c8c","strokeWidth":0.6},"encoding":{"y":{"field":"d","type":"quantitative"},"x":{"field":"Vi","type":"quantitative","scale":{"domain":[0,1.15],"nice":false},"axis":{"orient":"top","title":null}}}},
{"mark":{"type":"area","orient":"horizontal","fill":"#000000"},"encoding":{"y":{"field":"d","type":"quantitative"},"x":{"field":"Vi","type":"quantitative","scale":{"domain":[0,11.5],"nice":false},"axis":{"values":[5],"labelExpr":"datum.value+'%'","title":null}}}},
{"data":{"values":[{}]},"mark":{"type":"text","style":"lab"},"encoding":{"x":{"datum":0,"scale":{"domain":[0,1]},"axis":null},"y":{"datum":-9},"text":{"value":"Viscum"}}}
]},
{"width":21,"height":456,"resolve":{"scale":{"x":"independent"}},
"layer":[
{"mark":{"type":"rule","color":"#e4e4e4"},"encoding":{"y":{"field":"d","type":"quantitative","scale":{"domain":[-223,233],"reverse":true,"nice":false,"zero":false}}}},
{"data":{"values":[{}]},"mark":{"type":"rule","color":"#d0d0d0"},"encoding":{"y":{"datum":-2}}},
{"data":{"values":[{}]},"mark":{"type":"rule","color":"#a0a0a0"},"encoding":{"y":{"datum":-204}}},
{"data":{"values":[{}]},"mark":{"type":"rule","color":"#cdcdcd"},"encoding":{"x":{"datum":0,"scale":{"domain":[0,1]},"axis":null},"y":{"datum":-2},"y2":{"datum":233}}},
{"mark":{"type":"area","orient":"horizontal","clip":true,"fill":"#c8c8c8","stroke":"#8c8c8c","strokeWidth":0.6},"encoding":{"y":{"field":"d","type":"quantitative"},"x":{"field":"Vt","type":"quantitative","scale":{"domain":[0,1.05],"nice":false},"axis":{"orient":"top","title":null}}}},
{"mark":{"type":"area","orient":"horizontal","fill":"#000000"},"encoding":{"y":{"field":"d","type":"quantitative"},"x":{"field":"Vt","type":"quantitative","scale":{"domain":[0,10.5],"nice":false},"axis":{"values":[5],"labelExpr":"datum.value+'%'","title":null}}}},
{"data":{"values":[{}]},"mark":{"type":"text","style":"lab"},"encoding":{"x":{"datum":0,"scale":{"domain":[0,1]},"axis":null},"y":{"datum":-9},"text":{"value":"Vitis vinifera"}}}
]},
{"width":21,"height":456,"resolve":{"scale":{"x":"independent"}},
"layer":[
{"mark":{"type":"rule","color":"#e4e4e4"},"encoding":{"y":{"field":"d","type":"quantitative","scale":{"domain":[-223,233],"reverse":true,"nice":false,"zero":false}}}},
{"data":{"values":[{}]},"mark":{"type":"rule","color":"#d0d0d0"},"encoding":{"y":{"datum":-2}}},
{"data":{"values":[{}]},"mark":{"type":"rule","color":"#a0a0a0"},"encoding":{"y":{"datum":-204}}},
{"data":{"values":[{}]},"mark":{"type":"rule","color":"#cdcdcd"},"encoding":{"x":{"datum":0,"scale":{"domain":[0,1]},"axis":null},"y":{"datum":-2},"y2":{"datum":233}}},
{"mark":{"type":"area","orient":"horizontal","clip":true,"fill":"#c8c8c8","stroke":"#8c8c8c","strokeWidth":0.6},"encoding":{"y":{"field":"d","type":"quantitative"},"x":{"field":"Tx","type":"quantitative","scale":{"domain":[0,1.05],"nice":false},"axis":{"orient":"top","title":null}}}},
{"mark":{"type":"area","orient":"horizontal","fill":"#000000"},"encoding":{"y":{"field":"d","type":"quantitative"},"x":{"field":"Tx","type":"quantitative","scale":{"domain":[0,10.5],"nice":false},"axis":{"values":[5],"labelExpr":"datum.value+'%'","title":null}}}},
{"data":{"values":[{}]},"mark":{"type":"text","style":"lab"},"encoding":{"x":{"datum":0,"scale":{"domain":[0,1]},"axis":null},"y":{"datum":-9},"text":{"value":"Taxus baccata"}}}
]},
{"width":23,"height":456,"resolve":{"scale":{"x":"independent"}},
"layer":[
{"mark":{"type":"rule","color":"#e4e4e4"},"encoding":{"y":{"field":"d","type":"quantitative","scale":{"domain":[-223,233],"reverse":true,"nice":false,"zero":false}}}},
{"data":{"values":[{}]},"mark":{"type":"rule","color":"#d0d0d0"},"encoding":{"y":{"datum":-2}}},
{"data":{"values":[{}]},"mark":{"type":"rule","color":"#a0a0a0"},"encoding":{"x":{"datum":0,"scale":{"domain":[0,1]},"axis":null},"y":{"datum":-204},"y2":{"datum":233}}},
{"mark":{"type":"area","orient":"horizontal","clip":true,"fill":"#c8c8c8","stroke":"#8c8c8c","strokeWidth":0.6},"encoding":{"y":{"field":"d","type":"quantitative"},"x":{"field":"Sh","type":"quantitative","scale":{"domain":[0,1.15],"nice":false},"axis":{"orient":"top","title":null}}}},
{"mark":{"type":"area","orient":"horizontal","fill":"#000000","stroke":"#000000","strokeWidth":0.8},"encoding":{"y":{"field":"d","type":"quantitative"},"x":{"field":"Sh","type":"quantitative","scale":{"domain":[0,11.5],"nice":false},"axis":{"values":[5],"labelExpr":"datum.value+'%'","title":null}}}},
{"data":{"values":[{}]},"mark":{"type":"text","style":"lab"},"encoding":{"x":{"datum":0,"scale":{"domain":[0,1]},"axis":null},"y":{"datum":-9},"text":{"value":"Sum of herbaceous plants"}}}
]},
{"width":22,"height":456,"resolve":{"scale":{"x":"independent"}},
"layer":[
{"mark":{"type":"rule","color":"#e4e4e4"},"encoding":{"y":{"field":"d","type":"quantitative","scale":{"domain":[-223,233],"reverse":true,"nice":false,"zero":false}}}},
{"data":{"values":[{}]},"mark":{"type":"rule","color":"#d0d0d0"},"encoding":{"y":{"datum":-2}}},
{"data":{"values":[{}]},"mark":{"type":"rule","color":"#cdcdcd"},"encoding":{"x":{"datum":0,"scale":{"domain":[0,1]},"axis":null},"y":{"datum":-2},"y2":{"datum":233}}},
{"mark":{"type":"area","orient":"horizontal","clip":true,"fill":"#c8c8c8","stroke":"#8c8c8c","strokeWidth":0.6},"encoding":{"y":{"field":"d","type":"quantitative"},"x":{"field":"Nu","type":"quantitative","scale":{"domain":[0,1.1],"nice":false},"axis":{"orient":"top","title":null}}}},
{"mark":{"type":"area","orient":"horizontal","fill":"#000000"},"encoding":{"y":{"field":"d","type":"quantitative"},"x":{"field":"Nu","type":"quantitative","scale":{"domain":[0,11],"nice":false},"axis":{"values":[5],"labelExpr":"datum.value+'%'","title":null}}}},
{"data":{"values":[{}]},"mark":{"type":"text","style":"lab"},"encoding":{"x":{"datum":0,"scale":{"domain":[0,1]},"axis":null},"y":{"datum":-9},"text":{"value":"Nuphar"}}}
]},
{"width":20,"height":456,"resolve":{"scale":{"x":"independent"}},
"layer":[
{"mark":{"type":"rule","color":"#e4e4e4"},"encoding":{"y":{"field":"d","type":"quantitative","scale":{"domain":[-223,233],"reverse":true,"nice":false,"zero":false}}}},
{"data":{"values":[{}]},"mark":{"type":"rule","color":"#d0d0d0"},"encoding":{"y":{"datum":-2}}},
{"data":{"values":[{}]},"mark":{"type":"rule","color":"#cdcdcd"},"encoding":{"x":{"datum":0,"scale":{"domain":[0,1]},"axis":null},"y":{"datum":-2},"y2":{"datum":233}}},
{"mark":{"type":"area","orient":"horizontal","clip":true,"fill":"#c8c8c8","stroke":"#8c8c8c","strokeWidth":0.6},"encoding":{"y":{"field":"d","type":"quantitative"},"x":{"field":"Fi","type":"quantitative","scale":{"domain":[0,1.0],"nice":false},"axis":{"orient":"top","title":null}}}},
{"mark":{"type":"area","orient":"horizontal","fill":"#000000","stroke":"#000000","strokeWidth":0.8},"encoding":{"y":{"field":"d","type":"quantitative"},"x":{"field":"Fi","type":"quantitative","scale":{"domain":[0,10],"nice":false},"axis":{"values":[5],"labelExpr":"datum.value+'%'","title":null}}}},
{"data":{"values":[{}]},"mark":{"type":"text","style":"lab"},"encoding":{"x":{"datum":0,"scale":{"domain":[0,1]},"axis":null},"y":{"datum":-9},"text":{"value":"Filicales monolete"}}}
]},
{"width":39,"height":456,"data":{"name":"z"},
"layer":[
{"data":{"values":[{}]},"mark":{"type":"rule","color":"#a0a0a0"},"encoding":{"y":{"datum":-223,"scale":{"domain":[-223,233],"reverse":true,"nice":false,"zero":false}}}},
{"data":{"values":[{}]},"mark":{"type":"rule","color":"#a0a0a0"},"encoding":{"x":{"datum":0,"scale":{"domain":[0,1],"nice":false},"axis":null},"y":{"datum":-223},"y2":{"datum":233}}},
{"mark":{"type":"rect","fill":"#ffffff","stroke":"#9a9a9a"},"encoding":{"x":{"datum":0,"axis":null},"x2":{"datum":1},"y":{"aggregate":"min","field":"dep","type":"quantitative"},"y2":{"aggregate":"max","field":"dep"},"detail":{"field":"z","type":"nominal"}}},
{"mark":{"type":"text","fontWeight":"bold","fontSize":10.5,"align":"center","baseline":"middle","color":"#222222"},"encoding":{"x":{"datum":0.44,"axis":null},"y":{"aggregate":"mean","field":"dep","type":"quantitative"},"text":{"field":"z","type":"nominal"}}},
{"data":{"values":[{}]},"mark":{"type":"text","style":"lab","fontSize":14,"color":"#333333"},"encoding":{"x":{"datum":0.31,"axis":null},"y":{"datum":-10},"text":{"value":"L PAZ"}}}
]},
{"width":33,"height":456,"data":{"name":"z"},
"layer":[
{"data":{"values":[{}]},"mark":{"type":"rule","color":"#a0a0a0"},"encoding":{"y":{"datum":-223,"scale":{"domain":[-223,233],"reverse":true,"nice":false,"zero":false}}}},
{"data":{"values":[{}]},"mark":{"type":"rule","color":"#a0a0a0"},"encoding":{"x":{"datum":0,"scale":{"domain":[0,1],"nice":false},"axis":null},"y":{"datum":-223},"y2":{"datum":233}}},
{"mark":{"type":"rect","fill":"#ffffff","stroke":"#9a9a9a"},"encoding":{"x":{"datum":0,"axis":null},"x2":{"datum":1},"y":{"aggregate":"min","field":"dep","type":"quantitative"},"y2":{"aggregate":"max","field":"dep"},"detail":{"field":"r","type":"nominal"}}},
{"mark":{"type":"text","fontWeight":"bold","fontSize":10.5,"align":"center","baseline":"middle","color":"#222222"},"encoding":{"x":{"datum":0.33,"axis":null},"y":{"aggregate":"mean","field":"dep","type":"quantitative"},"text":{"field":"r","type":"nominal"}}},
{"data":{"values":[{}]},"mark":{"type":"text","style":"lab","fontSize":14,"color":"#333333"},"encoding":{"x":{"datum":0.18,"axis":null},"y":{"datum":-10},"text":{"value":"R PAZ"}}}
]},
{"width":26,"height":456,
"layer":[
{"data":{"values":[{}]},"mark":{"type":"rule","color":"#a0a0a0"},"encoding":{"y":{"datum":-223,"scale":{"domain":[-223,233],"reverse":true,"nice":false,"zero":false}}}},
{"data":{"values":[{}]},"mark":{"type":"rule","color":"#a0a0a0"},"encoding":{"y":{"datum":233}}},
{"data":{"values":[{}]},"mark":{"type":"rule","color":"#a0a0a0"},"encoding":{"x":{"datum":0,"scale":{"domain":[0,1],"nice":false},"axis":null},"y":{"datum":-223},"y2":{"datum":233}}},
{"data":{"values":[{}]},"mark":{"type":"text","style":"lab","fontSize":14,"color":"#333333"},"encoding":{"x":{"datum":0.05,"axis":null},"y":{"datum":-10},"text":{"value":"CHRONOSTRATIGRAPHY"}}},
{"data":{"values":[{}]},"mark":{"type":"text","angle":270,"align":"center","baseline":"middle","fontSize":9.5,"fontWeight":"bold","color":"#333333"},"encoding":{"x":{"datum":0.5,"axis":null},"y":{"datum":117},"text":{"value":"E E M I A N \u00a0 \u00a0 I N T E R G L A C I A L"}}},
{"data":{"values":[{}]},"mark":{"type":"text","align":"right","baseline":"middle","fontSize":5,"color":"#444444"},"encoding":{"x":{"datum":0.96,"axis":null},"y":{"datum":266},"text":{"value":"Anal. M.Małkiewicz"}}}
]}
],
"config":{
"font":"Liberation Sans",
"view":{"stroke":null},
"axis":{"grid":false,"labelFlush":false,"labelOverlap":false},
"axisY":{"disable":true},
"axisTop":{"domainColor":"#a0a0a0","ticks":false,"labels":false},
"axisBottom":{"domainColor":"#b8b8b8","tickColor":"#b8b8b8","tickSize":2.5,"labelFontSize":5.5,"labelColor":"#555555","labelPadding":1.5},
"style":{"lab":{"angle":270,"align":"left","baseline":"top","fontSize":17.8}}
}
}
